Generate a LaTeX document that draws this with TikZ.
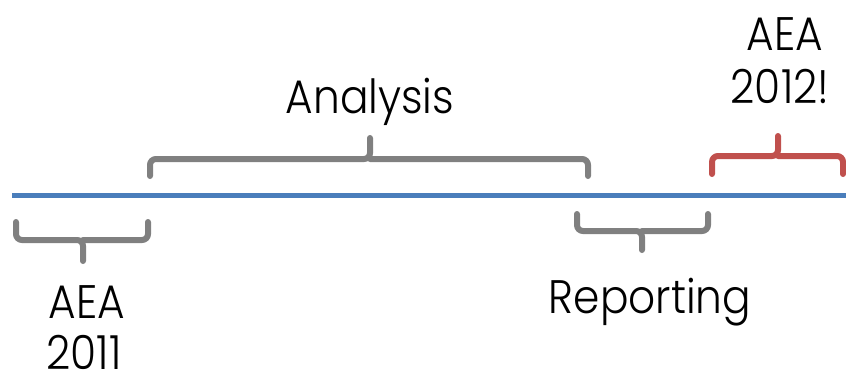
\documentclass[tikz,border=0pt]{standalone}
\usepackage{fontspec}
\setmainfont{Poppins}[UprightFont=* Light, FakeStretch=0.9]
\definecolor{tlblue}{HTML}{4A7EBB}
\definecolor{tlgray}{HTML}{808080}
\definecolor{tlred}{HTML}{C0504D}
\begin{document}
\begin{tikzpicture}[x=1pt,y=-1pt,
  brace/.style={line width=6pt, rounded corners=6pt, line cap=round},
  lbl/.style={font=\fontsize{47}{54}\selectfont, inner sep=0pt, anchor=base}]
\useasboundingbox (0,0) rectangle (846,383);
\draw[tlblue, line width=5pt] (12,195) -- (846,195);
% AEA 2011 brace (below)
\draw[brace, tlgray] (16,222) -- (16,240) -- (83,240) -- (83,261);
\draw[brace, tlgray] (148,222) -- (148,240) -- (83,240);
% Analysis brace (above)
\draw[brace, tlgray] (150,176) -- (150,159) -- (370,159) -- (370,138);
\draw[brace, tlgray] (588,176) -- (588,159) -- (370,159);
% Reporting brace (below)
\draw[brace, tlgray] (577,214) -- (577,231) -- (642,231) -- (642,250);
\draw[brace, tlgray] (708,214) -- (708,231) -- (642,231);
% AEA 2012 brace (above)
\draw[brace, tlred] (712,174) -- (712,156) -- (778,156) -- (778,136);
\draw[brace, tlred] (843,174) -- (843,156) -- (778,156);
\node[lbl] (analysis) at (370,113) {Analysis};
\node[lbl] (aea11a) at (87,318) {AEA};
\node[lbl, text depth=0pt] (aea11b) at (84,369) {2011};
\node[lbl] (reporting) at (650,313) {Reporting};
\node[lbl] (aea12a) at (785,50) {AEA};
\node[lbl] (aea12b) at (780,103) {2012!};
\end{tikzpicture}
\end{document}
